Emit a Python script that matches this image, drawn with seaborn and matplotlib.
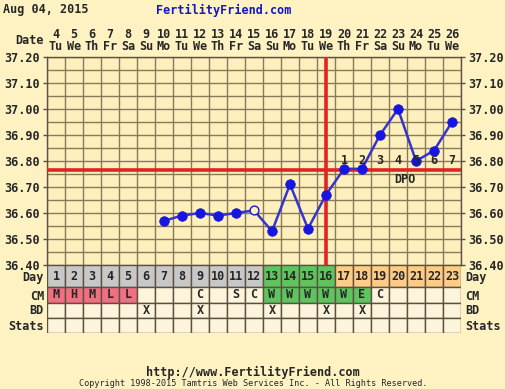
import numpy as np
import pandas as pd
import seaborn as sns
import matplotlib
matplotlib.use("Agg")
import matplotlib.pyplot as plt
from matplotlib.patches import Rectangle
from matplotlib.transforms import blended_transform_factory as btf

# ---------------- data ----------------
cycle_days = list(range(1, 24))
dates = list(range(4, 27))
weekdays = ["Tu", "We", "Th", "Fr", "Sa", "Su", "Mo"] * 4
weekdays = weekdays[:23]

temp_days = list(range(7, 24))
temps = [36.57, 36.59, 36.60, 36.59, 36.60, 36.61, 36.53, 36.71, 36.54,
         36.67, 36.77, 36.77, 36.90, 37.00, 36.80, 36.84, 36.95]
open_days = [12]
coverline = 36.765
ovulation_day = 16
dpo_days = list(range(17, 24))
dpo_labels = ["1", "2", "3", "4", "5", "6", "7"]

cm_codes = ["M", "H", "M", "L", "L", "", "", "", "C", "", "S", "C",
            "W", "W", "W", "W", "W", "E", "C", "", "", "", ""]
bd_days = [6, 9, 13, 16, 18]
day_phase = ["menses"] * 12 + ["fertile"] * 4 + ["luteal"] * 7

# ---------------- style ----------------
BG = "#FEF2C2"
PLOT_BG = "#FEF0BC"
CELL_BG = "#FDF4DC"
GRID = "#8a7a5c"
BORDER = "#5e5040"
BLUE_M = "#1616e0"
BLUE_L = "#3535cc"
RED = "#e02424"
phase_col = {"menses": "#c8c8c8", "fertile": "#5ec45e", "luteal": "#ffcc88"}
PINK = "#f07082"
GREEN = "#5ec45e"

sns.set_style("white")
plt.rcParams["font.family"] = ["DejaVu Sans Mono", "DejaVu Sans"]
plt.rcParams["font.weight"] = "bold"
FS = 8.5

W, H = 506, 389
fig = plt.figure(figsize=(W / 100, H / 100), dpi=100, facecolor=BG)

L, R, T, B = 47, 461, 57, 265
ax = fig.add_axes([L / W, 1 - B / H, (R - L) / W, (B - T) / H], facecolor=PLOT_BG)

df = pd.DataFrame({"day": temp_days, "temp": temps})
df["open"] = df["day"].isin(open_days)

sns.lineplot(data=df, x="day", y="temp", ax=ax, color=BLUE_L, lw=1.8, zorder=4)
sns.scatterplot(data=df[~df["open"]], x="day", y="temp", ax=ax, color=BLUE_M,
                s=48, edgecolor=BLUE_M, linewidth=0.5, zorder=5)
sns.scatterplot(data=df[df["open"]], x="day", y="temp", ax=ax, facecolor=PLOT_BG,
                s=40, edgecolor=BLUE_M, linewidth=1.0, zorder=5)

ax.axhline(coverline, color=RED, lw=2.6, zorder=3)
ax.axvline(ovulation_day, color=RED, lw=2.6, zorder=3)

for d, lab in zip(dpo_days, dpo_labels):
    ax.text(d, 36.80, lab, ha="center", va="center", fontsize=FS,
            fontweight="bold", zorder=6)
ax.text(np.mean(dpo_days) + 0.4, 36.727, "DPO", ha="center", va="center",
        fontsize=FS, fontweight="bold", zorder=6)

ax.set_xlim(0.5, 23.5)
ax.set_ylim(36.40, 37.20)
yt = np.round(np.arange(36.40, 37.201, 0.10), 2)
ax.set_yticks(yt)
ax.set_yticklabels([f"{v:.2f}" for v in yt])
ax.set_yticks(np.round(np.arange(36.40, 37.201, 0.05), 2), minor=True)
ax.set_xticks(np.arange(0.5, 23.6, 1.0), minor=True)
ax.set_xticks([])
ax.grid(True, which="minor", color=GRID, lw=1.0, zorder=1)
ax.grid(True, which="major", axis="y", color=GRID, lw=1.0, zorder=1)
ax.set_axisbelow(True)
ax.tick_params(axis="y", which="major", left=True, right=True, labelleft=True,
               labelright=True, length=3, width=1, color=BORDER, labelsize=FS,
               pad=2)
ax.tick_params(axis="y", which="minor", length=0)
ax.tick_params(axis="x", which="both", length=0, labelbottom=False)
for lab in ax.get_yticklabels():
    lab.set_fontweight("bold")
ax.set_xlabel("")
ax.set_ylabel("")
for s in ax.spines.values():
    s.set_color(BORDER)
    s.set_linewidth(1)

# date header
tr = btf(ax.transData, ax.transAxes)
for d, dt, wd in zip(cycle_days, dates, weekdays):
    ax.text(d, (B - 34) / (B - T), str(dt), transform=tr, ha="center",
            va="center", fontsize=FS, fontweight="bold")
    ax.text(d, (B - 47) / (B - T), wd, transform=tr, ha="center",
            va="center", fontsize=FS, fontweight="bold")
fig.text(44 / W, 1 - 40 / H, "Date", ha="right", va="center", fontsize=FS,
         fontweight="bold")
fig.text(3 / W, 1 - 10 / H, "Aug 04, 2015", ha="left", va="center",
         fontsize=FS, fontweight="bold")
fig.text(224 / W, 1 - 10 / H, "FertilityFriend.com", ha="center", va="center",
         fontsize=FS, fontweight="bold", color="#1414c8")

# ---------------- table ----------------
TB = 333
axt = fig.add_axes([L / W, 1 - TB / H, (R - L) / W, (TB - B) / H])
axt.set_xlim(0.5, 23.5)
axt.set_ylim(TB, B)
axt.axis("off")
rows = [("Day", 265, 287), ("CM", 287, 303), ("BD", 303, 318), ("Stats", 318, 333)]
label_y = {"Day": 278, "CM": 296, "BD": 311, "Stats": 326}
cm_fill = {"M": PINK, "H": PINK, "L": PINK, "W": GREEN, "E": GREEN}
for name, y0, y1 in rows:
    for i, d in enumerate(cycle_days):
        if name == "Day":
            fc = phase_col[day_phase[i]]
            txt = str(d)
        elif name == "CM":
            fc = cm_fill.get(cm_codes[i], CELL_BG)
            txt = cm_codes[i]
        elif name == "BD":
            fc = CELL_BG
            txt = "X" if d in bd_days else ""
        else:
            fc = CELL_BG
            txt = ""
        axt.add_patch(Rectangle((d - 0.5, y0), 1, y1 - y0, facecolor=fc,
                                edgecolor=BORDER, lw=1.0))
        if txt:
            axt.text(d, (y0 + y1) / 2, txt, ha="center", va="center",
                     fontsize=FS, fontweight="bold")
    fig.text(44 / W, 1 - label_y[name] / H, name, ha="right", va="center",
             fontsize=FS, fontweight="bold")
    fig.text(465 / W, 1 - label_y[name] / H, name, ha="left", va="center",
             fontsize=FS, fontweight="bold")

# footer
fig.text(253 / W, 1 - 372 / H, "http://www.FertilityFriend.com", ha="center",
         va="center", fontsize=FS, fontweight="bold")
fig.text(253 / W, 1 - 384 / H,
         "Copyright 1998-2015 Tamtris Web Services Inc. - All Rights Reserved.",
         ha="center", va="center", fontsize=6.1, fontweight="normal")

fig.savefig("out.png", dpi=100, facecolor=BG)
